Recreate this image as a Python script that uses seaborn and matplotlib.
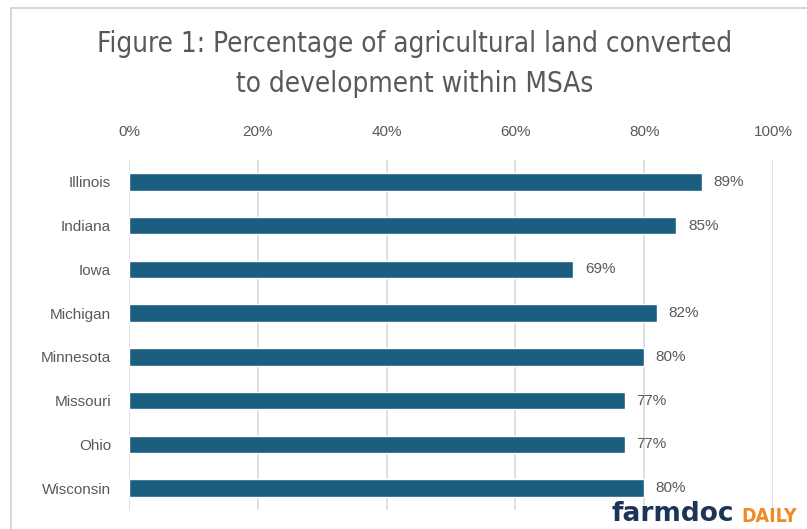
import matplotlib
matplotlib.use("Agg")
import matplotlib.pyplot as plt
import seaborn as sns
import pandas as pd
from matplotlib.patches import Rectangle

states = ["Illinois", "Indiana", "Iowa", "Michigan", "Minnesota", "Missouri", "Ohio", "Wisconsin"]
values = [89, 85, 69, 82, 80, 77, 77, 80]
x_ticks = [0, 20, 40, 60, 80, 100]
x_tick_labels = ["0%", "20%", "40%", "60%", "80%", "100%"]
title = "Figure 1: Percentage of agricultural land converted\nto development within MSAs"

sns.set_theme(style="white")
plt.rcParams["font.family"] = ["Liberation Sans", "DejaVu Sans"]

df = pd.DataFrame({"state": states, "value": values})

fig = plt.figure(figsize=(8.07, 5.29), dpi=100)
ax = fig.add_axes([129 / 807, 1 - 510 / 529, 644 / 807, 350 / 529])

sns.barplot(data=df, x="value", y="state", color="#1b5e7f", width=0.4,
            saturation=1, ax=ax, orient="h")

ax.set_xlim(0, 100)
ax.set_ylim(7.5, -0.5)
ax.set_xticks(x_ticks)
ax.set_xticklabels(x_tick_labels)
ax.xaxis.tick_top()
ax.tick_params(axis="x", length=0, pad=15, labelsize=11, labelcolor="#595959")
ax.tick_params(axis="y", length=0, pad=13, labelsize=11, labelcolor="#595959")
ax.set_xlabel("")
ax.set_ylabel("")
ax.grid(axis="x", color="#d9d9d9", linewidth=1.2)
ax.set_axisbelow(True)
for s in ax.spines.values():
    s.set_visible(False)

for i, v in enumerate(values):
    ax.text(v + 1.8, i, f"{v}%", va="center", ha="left", fontsize=11, color="#595959")

fig.text(415 / 807, 1 - 64 / 529, title, ha="center", va="center",
         fontsize=20, color="#595959", family=["DejaVu Sans"], fontstretch="condensed",
         linespacing=1.55)

# outer chart border
fig.patches.append(Rectangle((11 / 807, -0.1), 1.2, 1 - 8 / 529 + 0.1,
                             transform=fig.transFigure, fill=False,
                             edgecolor="#d0d0d0", linewidth=1.2))

# logo
fig.text(611 / 807, 1 - 514 / 529, "farmdoc", ha="left", va="center", fontsize=19,
         fontweight="bold", color="#1c3557", family=["DejaVu Sans"])
fig.text(741 / 807, 1 - 516 / 529, "DAILY", ha="left", va="center", fontsize=14,
         fontweight="bold", color="#f08a24", family=["DejaVu Sans"], fontstretch="condensed")

fig.savefig("out.png", dpi=100)
